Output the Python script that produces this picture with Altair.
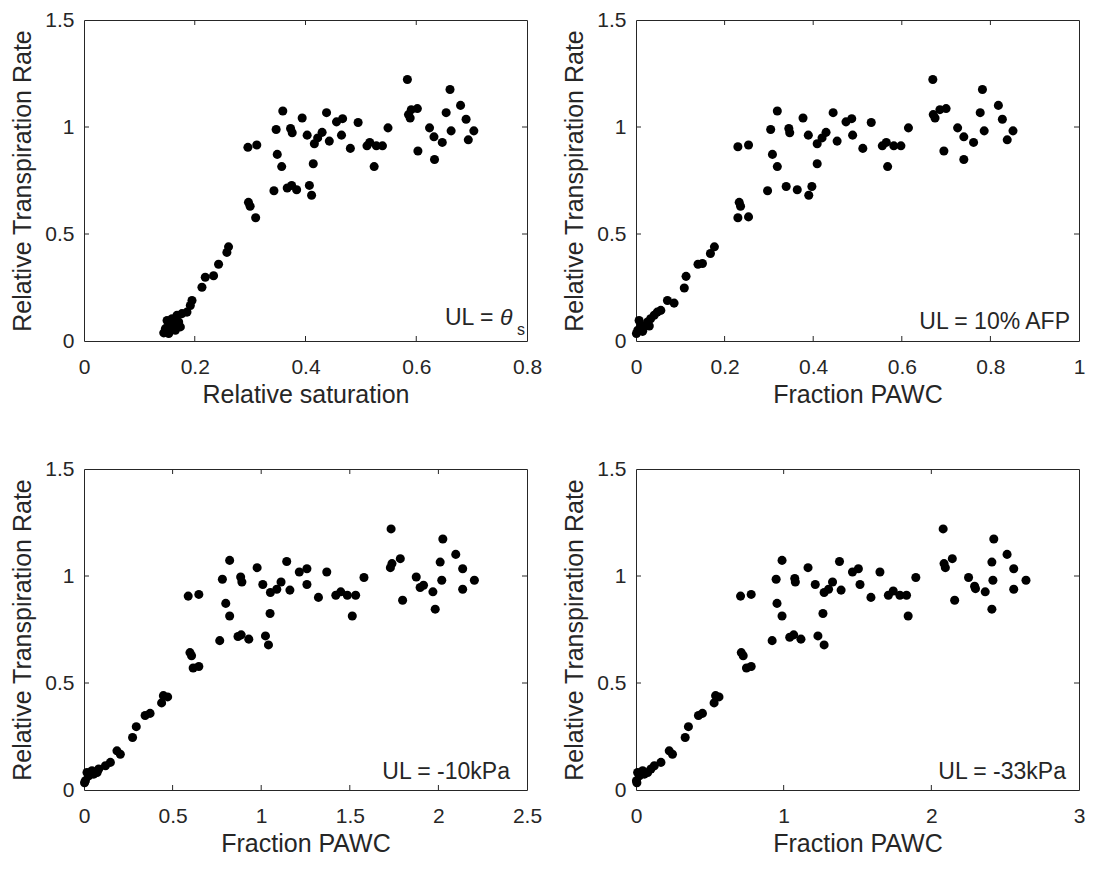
import altair as alt
import pandas as pd

# ---------------- data ----------------
Y_TICKS = [0, 0.5, 1, 1.5]

x1_ticks = [0, 0.2, 0.4, 0.6, 0.8]
x2_ticks = [0, 0.2, 0.4, 0.6, 0.8, 1]
x3_ticks = [0, 0.5, 1, 1.5, 2, 2.5]
x4_ticks = [0, 1, 2, 3]

x_titles = ["Relative saturation", "Fraction PAWC", "Fraction PAWC", "Fraction PAWC"]
y_title = "Relative Transpiration Rate"
notes = ["UL = ", "UL = 10% AFP", "UL = -10kPa", "UL = -33kPa"]

# panel 1: relative saturation
x1 = [0.584, 0.661, 0.680, 0.654, 0.690, 0.704, 0.694, 0.663, 0.647, 0.633, 0.632, 0.624, 0.603, 0.602, 0.591, 0.586, 0.589,
      0.549, 0.539, 0.528, 0.516, 0.511, 0.524, 0.495, 0.481, 0.467, 0.456, 0.465, 0.438, 0.443, 0.430, 0.422, 0.416, 0.403,
      0.414, 0.394, 0.359, 0.347, 0.373, 0.376, 0.349, 0.357, 0.343, 0.367, 0.375, 0.384, 0.407, 0.411, 0.296, 0.312, 0.297,
      0.300, 0.310,
      0.261, 0.258, 0.243, 0.234, 0.219, 0.213, 0.195, 0.192, 0.186, 0.177, 0.168, 0.159, 0.171, 0.153, 0.162, 0.147, 0.156,
      0.144, 0.153, 0.165, 0.174, 0.150]
y1 = [1.222, 1.175, 1.101, 1.067, 1.036, 0.982, 0.940, 0.982, 0.928, 0.848, 0.954, 0.996, 0.888, 1.086, 1.081, 1.058, 1.042,
      0.996, 0.912, 0.912, 0.928, 0.912, 0.815, 1.021, 0.900, 1.039, 1.024, 0.962, 1.067, 0.934, 0.975, 0.949, 0.922, 0.962,
      0.828, 1.042, 1.075, 0.988, 0.993, 0.973, 0.872, 0.815, 0.702, 0.715, 0.727, 0.707, 0.727, 0.681, 0.905, 0.916, 0.648,
      0.630, 0.576,
      0.440, 0.414, 0.359, 0.305, 0.298, 0.251, 0.189, 0.166, 0.135, 0.128, 0.120, 0.104, 0.089, 0.081, 0.073, 0.058, 0.050,
      0.038, 0.035, 0.050, 0.066, 0.096]

# panel 2: fraction PAWC, UL = 10% AFP
x2 = [0.670, 0.782, 0.818, 0.777, 0.827, 0.851, 0.838, 0.786, 0.762, 0.740, 0.740, 0.726, 0.695, 0.700, 0.686, 0.671, 0.675,
      0.615, 0.598, 0.582, 0.565, 0.556, 0.568, 0.531, 0.512, 0.487, 0.474, 0.489, 0.445, 0.454, 0.429, 0.420, 0.409, 0.389,
      0.409, 0.377, 0.319, 0.304, 0.345, 0.347, 0.308, 0.319, 0.297, 0.339, 0.364, 0.397, 0.390, 0.230, 0.254, 0.233, 0.236,
      0.230, 0.254,
      0.177, 0.168, 0.140, 0.150, 0.113, 0.109, 0.071, 0.086, 0.056, 0.041, 0.026, 0.011, 0.004, 0.019, 0.033, 0.048, 0.007,
      0.001, 0.015, 0.030]
y2 = [1.222, 1.175, 1.101, 1.067, 1.036, 0.982, 0.940, 0.982, 0.928, 0.848, 0.954, 0.996, 0.888, 1.086, 1.081, 1.058, 1.042,
      0.996, 0.912, 0.912, 0.928, 0.912, 0.815, 1.021, 0.900, 1.039, 1.024, 0.962, 1.067, 0.934, 0.975, 0.949, 0.922, 0.962,
      0.828, 1.042, 1.075, 0.988, 0.993, 0.973, 0.872, 0.815, 0.702, 0.722, 0.707, 0.722, 0.681, 0.908, 0.916, 0.648, 0.630,
      0.576, 0.580,
      0.440, 0.409, 0.359, 0.362, 0.302, 0.248, 0.189, 0.177, 0.143, 0.120, 0.089, 0.073, 0.050, 0.066, 0.104, 0.135, 0.096,
      0.035, 0.045, 0.070]

# panel 3: fraction PAWC, UL = -10kPa
x3 = [1.733, 2.025, 2.098, 2.010, 2.137, 2.203, 2.137, 2.019, 1.969, 1.982, 1.916, 1.875, 1.798, 1.785, 1.738, 1.729, 1.897,
      1.580, 1.533, 1.486, 1.449, 1.421, 1.514, 1.370, 1.323, 1.258, 1.215, 1.258, 1.144, 1.162, 1.112, 1.088, 1.052, 1.009,
      1.050, 0.977, 0.822, 0.781, 0.884, 0.891, 0.800, 0.822, 0.766, 0.869, 0.887, 0.930, 1.024, 1.041, 0.588, 0.648, 0.598,
      0.607, 0.616, 0.648,
      0.472, 0.438, 0.448, 0.373, 0.345, 0.295, 0.274, 0.205, 0.186, 0.149, 0.121, 0.083, 0.055, 0.027, 0.008, 0.045, 0.017,
      0.074, 0.003]
y3 = [1.220, 1.173, 1.101, 1.065, 1.034, 0.980, 0.938, 0.980, 0.926, 0.845, 0.957, 0.995, 0.887, 1.081, 1.058, 1.039, 0.946,
      0.993, 0.910, 0.910, 0.926, 0.910, 0.813, 1.019, 0.900, 1.034, 1.019, 0.960, 1.068, 0.934, 0.972, 0.938, 0.923, 0.960,
      0.825, 1.039, 1.073, 0.985, 0.995, 0.972, 0.872, 0.813, 0.698, 0.717, 0.725, 0.705, 0.720, 0.678, 0.906, 0.914, 0.642,
      0.627, 0.570, 0.577,
      0.435, 0.407, 0.441, 0.358, 0.348, 0.296, 0.245, 0.167, 0.183, 0.129, 0.113, 0.098, 0.074, 0.066, 0.043, 0.090, 0.082,
      0.082, 0.034]

# panel 4: fraction PAWC, UL = -33kPa
x4 = [2.080, 2.423, 2.513, 2.410, 2.558, 2.641, 2.558, 2.417, 2.365, 2.410, 2.293, 2.252, 2.158, 2.142, 2.086, 2.095, 2.299,
      1.895, 1.843, 1.832, 1.787, 1.742, 1.709, 1.652, 1.591, 1.506, 1.466, 1.517, 1.378, 1.389, 1.331, 1.304, 1.274, 1.214,
      1.266, 1.165, 0.989, 0.949, 1.075, 1.079, 0.955, 0.989, 0.922, 1.041, 1.068, 1.117, 1.232, 1.274, 0.708, 0.780, 0.713,
      0.726, 0.748, 0.780,
      0.562, 0.529, 0.539, 0.450, 0.423, 0.355, 0.333, 0.247, 0.225, 0.169, 0.124, 0.101, 0.057, 0.023, 0.003, 0.045, 0.011,
      0.079, 0.006]
y4 = [1.220, 1.173, 1.101, 1.065, 1.034, 0.980, 0.938, 0.980, 0.926, 0.845, 0.952, 0.993, 0.887, 1.081, 1.058, 1.039, 0.941,
      0.993, 0.813, 0.910, 0.910, 0.930, 0.910, 1.019, 0.900, 1.034, 1.019, 0.960, 1.068, 0.934, 0.972, 0.938, 0.923, 0.960,
      0.825, 1.039, 1.073, 0.985, 0.988, 0.972, 0.872, 0.813, 0.698, 0.714, 0.725, 0.705, 0.720, 0.678, 0.906, 0.914, 0.642,
      0.627, 0.570, 0.577,
      0.435, 0.407, 0.441, 0.358, 0.348, 0.296, 0.245, 0.167, 0.183, 0.129, 0.113, 0.098, 0.074, 0.066, 0.043, 0.090, 0.082,
      0.082, 0.034]

# ---------------- styling ----------------
W, H = 443, 321
AX = "#262626"
FONT = "Liberation Sans"
TICK = 5
NOTE_SIZE = 23


def panel(xs, ys, xticks, xtitle, note_layers):
    df = pd.DataFrame({"x": xs, "y": ys})
    xscale = alt.Scale(domain=[xticks[0], xticks[-1]], nice=False, zero=False)
    yscale = alt.Scale(domain=[Y_TICKS[0], Y_TICKS[-1]], nice=False, zero=False)
    xaxis = alt.Axis(values=xticks, title=xtitle, format="~g", ticks=False, domain=False,
                     grid=False, labelPadding=15, titlePadding=5, labelFlush=False)
    yaxis = alt.Axis(values=Y_TICKS, title=y_title, format="~g", ticks=False, domain=False,
                     grid=False, labelPadding=10, titlePadding=9, labelFlush=False)

    pts = alt.Chart(df).mark_circle(size=82, color="black", opacity=1).encode(
        x=alt.X("x:Q", scale=xscale, axis=xaxis),
        y=alt.Y("y:Q", scale=yscale, axis=yaxis),
    )

    xt = pd.DataFrame({"x": xticks[1:-1]})
    yt = pd.DataFrame({"y": Y_TICKS[1:-1]})
    tx = alt.X("x:Q", scale=xscale, axis=xaxis)
    ty = alt.Y("y:Q", scale=yscale, axis=yaxis)
    bottom = alt.Chart(xt).mark_rule(color=AX, strokeWidth=1).encode(x=tx, y=alt.value(H), y2=alt.value(H - TICK))
    top = alt.Chart(xt).mark_rule(color=AX, strokeWidth=1).encode(x=tx, y=alt.value(0), y2=alt.value(TICK))
    left = alt.Chart(yt).mark_rule(color=AX, strokeWidth=1).encode(y=ty, x=alt.value(0), x2=alt.value(TICK))
    right = alt.Chart(yt).mark_rule(color=AX, strokeWidth=1).encode(y=ty, x=alt.value(W), x2=alt.value(W - TICK))

    return alt.layer(pts, bottom, top, left, right, *note_layers).properties(width=W, height=H)


one = pd.DataFrame({"k": [0]})


def note(text, x, y, align="right", size=NOTE_SIZE, style="normal"):
    return alt.Chart(one).mark_text(
        text=text, align=align, baseline="alphabetic", fontSize=size, font=FONT,
        fontStyle=style, color=AX
    ).encode(x=alt.value(x), y=alt.value(y))


n1 = [note(notes[0], 361, H - 16, align="left"),
      note("θ", 416, H - 16, align="left", style="italic"),
      note("s", 433, H - 6, align="left", size=16)]
n2 = [note(notes[1], 434, H - 12)]
n3 = [note(notes[2], 426, H - 11)]
n4 = [note(notes[3], 430, H - 11)]

p1 = panel(x1, y1, x1_ticks, x_titles[0], n1)
p2 = panel(x2, y2, x2_ticks, x_titles[1], n2)
p3 = panel(x3, y3, x3_ticks, x_titles[2], n3)
p4 = panel(x4, y4, x4_ticks, x_titles[3], n4)

chart = alt.concat(p1, p2, p3, p4, columns=2, spacing={"row": 128, "column": 109}, bounds="flush").properties(
    padding={"left": 2, "top": 0, "right": 0, "bottom": 4},
    background="white",
).configure_view(
    stroke=AX, strokeWidth=1
).configure_axis(
    labelFont=FONT, labelFontSize=21, labelColor=AX,
    titleFont=FONT, titleFontSize=25, titleColor=AX, titleFontWeight="normal",
)

chart.save("out.html", embed_options={"renderer": "svg", "actions": False})
